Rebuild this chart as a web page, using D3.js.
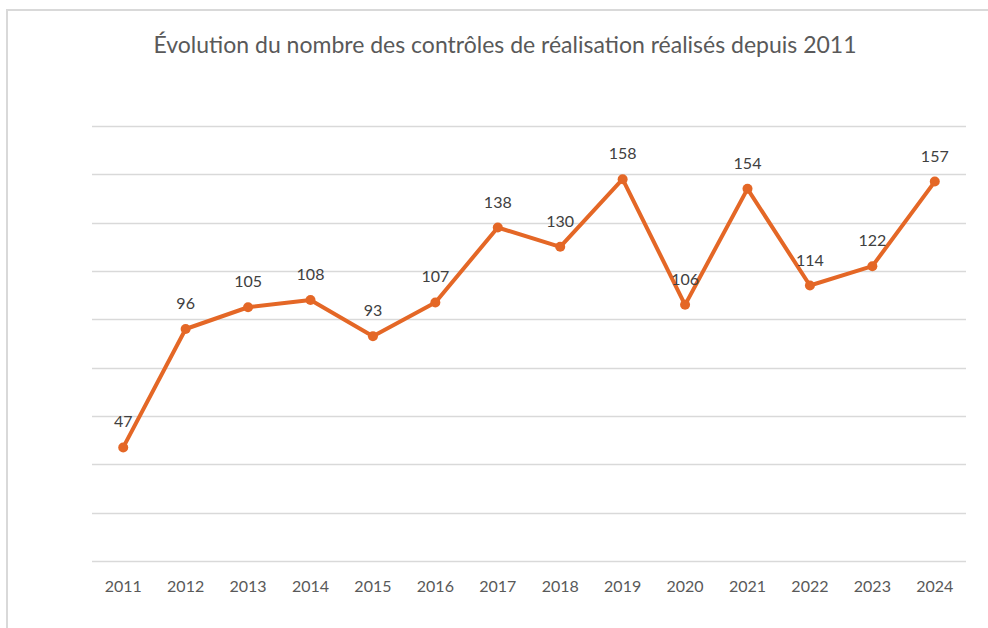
<!DOCTYPE html>
<html>
<head>
<meta charset="utf-8">
<script src="https://cdn.jsdelivr.net/npm/d3@7"></script>
<style>
  body { margin: 0; background: #fff; }
  svg { display: block; font-family: Lato, "Open Sans", sans-serif; }
</style>
</head>
<body>
<svg id="chart" width="988" height="628"></svg>
<script>
// data
var years = ["2011", "2012", "2013", "2014", "2015", "2016", "2017", "2018", "2019", "2020", "2021", "2022", "2023", "2024"];
var counts = [47, 96, 105, 108, 93, 107, 138, 130, 158, 106, 154, 114, 122, 157];
var yTicks = [0, 20, 40, 60, 80, 100, 120, 140, 160, 180];

var svg = d3.select("#chart");
var margin = {left: 92, right: 22, top: 126, bottom: 67};
var width = 988, height = 628;

// chart frame
svg.append("rect")
  .attr("x", 7).attr("y", 10)
  .attr("width", 990).attr("height", 640)
  .attr("fill", "none")
  .attr("stroke", "#d9d9d9")
  .attr("stroke-width", 2);

svg.append("text")
  .attr("x", 505).attr("y", 53)
  .attr("text-anchor", "middle")
  .attr("fill", "#595959")
  .style("font-size", "23px")
  .text("Évolution du nombre des contrôles de réalisation réalisés depuis 2011");

var x = d3.scaleBand()
  .domain(years)
  .range([margin.left, width - margin.right]);

var y = d3.scaleLinear()
  .domain([0, 180])
  .range([height - margin.bottom, margin.top]);

// gridlines
svg.append("g")
  .selectAll("line")
  .data(yTicks)
  .enter().append("line")
    .attr("x1", margin.left)
    .attr("x2", width - margin.right)
    .attr("y1", function(d) { return Math.round(y(d)) + 0.5; })
    .attr("y2", function(d) { return Math.round(y(d)) + 0.5; })
    .attr("stroke", "#d9d9d9")
    .attr("stroke-width", 1.5);

// x axis labels
var xAxis = d3.axisBottom(x).tickSize(0).tickPadding(20);
var gx = svg.append("g")
  .attr("transform", "translate(0," + y(0) + ")")
  .call(xAxis);
gx.select(".domain").remove();
gx.selectAll("text")
  .attr("fill", "#595959")
  .style("font-size", "16px")
  .style("font-family", "Lato, 'Open Sans', sans-serif");

var cx = function(d, i) { return x(years[i]) + x.bandwidth() / 2; };

var line = d3.line()
  .x(function(d, i) { return cx(d, i); })
  .y(function(d) { return y(d); });

svg.append("path")
  .datum(counts)
  .attr("d", line)
  .attr("fill", "none")
  .attr("stroke", "#e46726")
  .attr("stroke-width", 4)
  .attr("stroke-linejoin", "round");

svg.append("g")
  .selectAll("circle")
  .data(counts)
  .enter().append("circle")
    .attr("cx", cx)
    .attr("cy", function(d) { return y(d); })
    .attr("r", 5)
    .attr("fill", "#e46726");

svg.append("g")
  .selectAll("text")
  .data(counts)
  .enter().append("text")
    .attr("x", cx)
    .attr("y", function(d) { return y(d) - 20; })
    .attr("text-anchor", "middle")
    .attr("fill", "#404040")
    .style("font-size", "16px")
    .text(function(d) { return d; });
</script>
</body>
</html>
